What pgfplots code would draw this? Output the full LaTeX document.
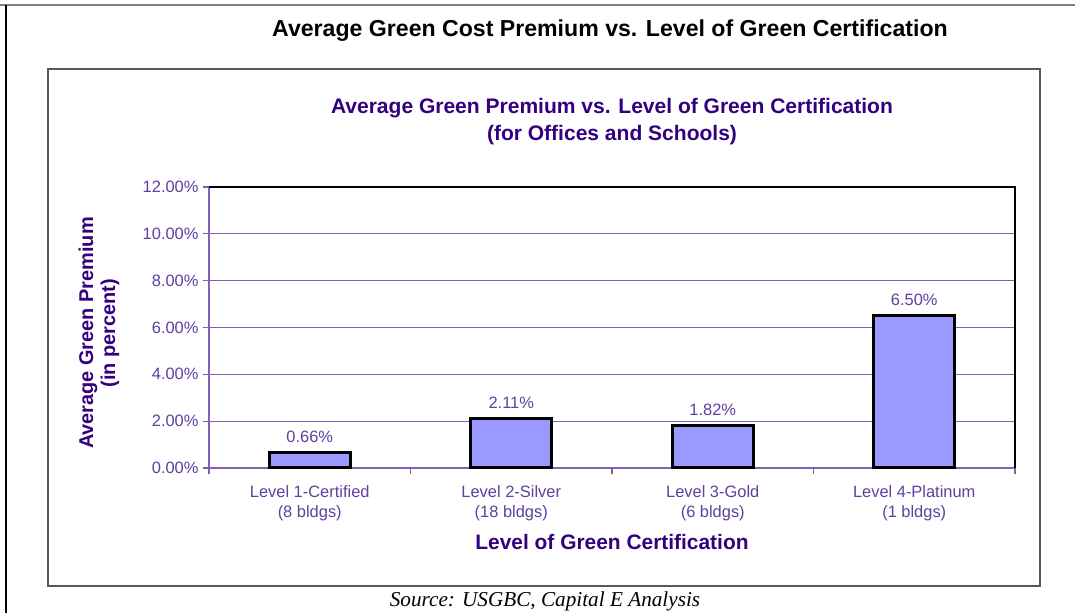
\documentclass[border=0pt]{standalone}
\usepackage{fontspec}
\setmainfont{Liberation Sans}
\newfontfamily\timesfont{Liberation Serif}
\usepackage{pgfplots}
\pgfplotsset{compat=1.18}
\definecolor{barfill}{RGB}{153,153,255}
\definecolor{tickpurple}{RGB}{96,64,160}
\definecolor{titlepurple}{RGB}{51,0,128}
\definecolor{gridpurple}{RGB}{128,96,176}
\begin{document}
\begin{tikzpicture}
\useasboundingbox (0bp,0bp) rectangle (1075bp,613bp);
\fill[white] (0bp,0bp) rectangle (1075bp,613bp);
% outer page frame
\draw[gray, line width=1.5bp] (0bp,608bp) -- (1075bp,608bp);
\draw[black, line width=1.2bp] (6bp,608bp) -- (6bp,0bp);
% chart frame
\draw[gray!70!black, line width=1.2bp] (48bp,27bp) rectangle (1040bp,544bp);
% outer title
\node[font=\bfseries\fontsize{23.2}{27}\selectfont, anchor=center] at (610bp,582bp) {Average Green Cost Premium vs. Level of Green Certification};
\begin{axis}[
  at={(209bp,145bp)}, anchor=south west,
  scale only axis, width=806bp, height=281bp,
  xmin=-0.5, xmax=3.5, ymin=0, ymax=12,
  ybar, bar width=81bp,
  ytick={0,2,4,6,8,10,12},
  yticklabels={0.00\%,2.00\%,4.00\%,6.00\%,8.00\%,10.00\%,12.00\%},
  xtick={0,1,2,3},
  xticklabels={{Level 1-Certified\\(8 bldgs)},{Level 2-Silver\\(18 bldgs)},{Level 3-Gold\\(6 bldgs)},{Level 4-Platinum\\(1 bldgs)}},
  minor xtick={-0.5,0.5,1.5,2.5,3.5},
  major x tick style={draw=none},
  minor tick length=6bp,
  major tick length=6bp,
  tick align=outside,
  tick pos=left,
  tick style={gridpurple, line width=1.2bp},
  axis line style={gridpurple, line width=1.2bp},
  ymajorgrids, grid style={gridpurple, line width=1.2bp},
  xticklabel style={align=center, font=\fontsize{16.5}{20}\selectfont, text=tickpurple, yshift=-8bp},
  yticklabel style={font=\fontsize{16.5}{20}\selectfont, text=tickpurple, xshift=-1bp},
  /pgf/number format/assume math mode=true,
  ylabel={Average Green Premium\\(in percent)},
  ylabel style={at={(axis description cs:-0.1365,0.4804)}, anchor=center, align=center, font=\bfseries\fontsize{20}{22}\selectfont, text=titlepurple},
  xlabel={Level of Green Certification},
  xlabel style={at={(axis description cs:0.5,-0.2633)}, anchor=center, font=\bfseries\fontsize{21}{24}\selectfont, text=titlepurple},
  title={Average Green Premium vs. Level of Green Certification\\(for Offices and Schools)},
  title style={at={(axis description cs:0.5,1.2117)}, anchor=center, align=center, font=\bfseries\fontsize{21.1}{27}\selectfont, text=titlepurple},
  nodes near coords={\pgfmathprintnumber[fixed,fixed zerofill,precision=2,assume math mode=true]{\pgfplotspointmeta}\%},
  nodes near coords style={font=\fontsize{16.5}{20}\selectfont, text=tickpurple, anchor=south, yshift=5bp},
  clip=false,
]
\addplot[fill=barfill, draw=black, line width=3bp] coordinates {(0,0.66) (1,2.11) (2,1.82) (3,6.50)};
\draw[black, line width=1.2bp] (rel axis cs:0,1) -- (rel axis cs:1,1) -- (rel axis cs:1,0);
\end{axis}
\node[font=\timesfont\itshape\fontsize{21.3}{24}\selectfont, anchor=center] at (545bp,12bp) {Source: USGBC, Capital E Analysis};
\end{tikzpicture}
\end{document}
